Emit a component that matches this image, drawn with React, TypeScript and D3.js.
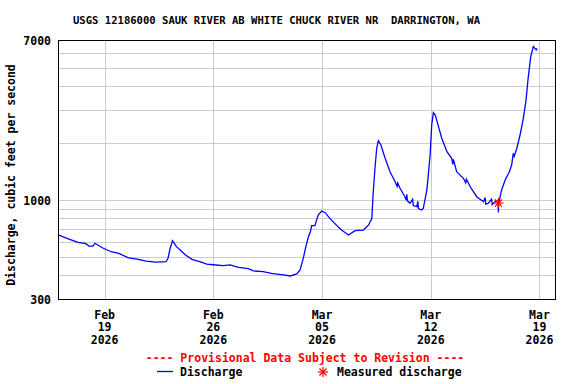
import React from 'react';
import * as d3 from 'd3';

const title = 'USGS 12186000 SAUK RIVER AB WHITE CHUCK RIVER NR  DARRINGTON, WA';
const yLabel = 'Discharge, cubic feet per second';

// discharge readings
const times = [
    '2026-02-16 01:00', '2026-02-16 17:00', '2026-02-17 07:00', '2026-02-17 19:00', '2026-02-18 00:00',
    '2026-02-18 06:00', '2026-02-18 09:00', '2026-02-18 22:00', '2026-02-19 10:00', '2026-02-19 22:00',
    '2026-02-20 12:00', '2026-02-21 04:00', '2026-02-21 16:00', '2026-02-22 07:00', '2026-02-22 23:00',
    '2026-02-23 02:00', '2026-02-23 05:00', '2026-02-23 09:00', '2026-02-23 15:00', '2026-02-23 22:00',
    '2026-02-24 05:00', '2026-02-24 15:00', '2026-02-25 03:00', '2026-02-25 14:00', '2026-02-26 00:00',
    '2026-02-26 15:00', '2026-02-27 02:00', '2026-02-27 15:00', '2026-02-28 06:00', '2026-02-28 14:00',
    '2026-03-01 05:00', '2026-03-01 18:00', '2026-03-02 12:00', '2026-03-02 23:00', '2026-03-03 09:00',
    '2026-03-03 14:00', '2026-03-03 19:00', '2026-03-03 23:00', '2026-03-04 03:00', '2026-03-04 06:00',
    '2026-03-04 08:00', '2026-03-04 13:00', '2026-03-04 18:00', '2026-03-04 23:30', '2026-03-05 05:00',
    '2026-03-05 12:00', '2026-03-05 23:00', '2026-03-06 06:00', '2026-03-06 17:00', '2026-03-07 03:00',
    '2026-03-07 16:00', '2026-03-08 00:00', '2026-03-08 05:00', '2026-03-08 07:00', '2026-03-08 10:00',
    '2026-03-08 12:30', '2026-03-08 15:00', '2026-03-08 19:00', '2026-03-09 01:30', '2026-03-09 09:00',
    '2026-03-09 17:00', '2026-03-09 20:00', '2026-03-09 21:00', '2026-03-10 00:30', '2026-03-10 08:00',
    '2026-03-10 10:00', '2026-03-10 11:00', '2026-03-10 12:00', '2026-03-10 16:00', '2026-03-10 20:00',
    '2026-03-10 21:00', '2026-03-11 02:30', '2026-03-11 04:00', '2026-03-11 05:00', '2026-03-11 10:00',
    '2026-03-11 12:30', '2026-03-11 18:00', '2026-03-11 20:00', '2026-03-11 23:00', '2026-03-12 01:30',
    '2026-03-12 04:00', '2026-03-12 07:00', '2026-03-12 12:00', '2026-03-12 17:00', '2026-03-13 01:00',
    '2026-03-13 08:30', '2026-03-13 10:00', '2026-03-13 11:00', '2026-03-13 16:00', '2026-03-14 02:30',
    '2026-03-14 06:00', '2026-03-14 07:00', '2026-03-14 13:00', '2026-03-14 23:00', '2026-03-15 09:30',
    '2026-03-15 12:00', '2026-03-15 13:00', '2026-03-15 17:00', '2026-03-15 22:00', '2026-03-15 23:00',
    '2026-03-16 03:30', '2026-03-16 08:00', '2026-03-16 08:30', '2026-03-16 09:00', '2026-03-16 13:30',
    '2026-03-16 19:00', '2026-03-17 01:30', '2026-03-17 05:00', '2026-03-17 07:30', '2026-03-17 09:00',
    '2026-03-17 13:00', '2026-03-17 18:00', '2026-03-17 23:00', '2026-03-18 03:00', '2026-03-18 06:30',
    '2026-03-18 10:30', '2026-03-18 14:30', '2026-03-18 19:00', '2026-03-18 20:30',
];
const discharge = [
    653, 622, 598, 588, 571,
    571, 591, 556, 533, 523,
    496, 486, 476, 470, 472,
    492, 551, 610, 567, 540,
    512, 486, 472, 459, 455,
    450, 454, 441, 434, 422,
    418, 410, 402, 397, 407,
    427, 492, 567, 640, 680,
    732, 732, 833, 875, 857,
    800, 732, 694, 653, 689,
    694, 738, 800, 1085, 1499,
    1876, 2057, 1952, 1661, 1411,
    1250, 1180, 1230, 1153, 1041,
    1000, 1070, 990, 961, 1010,
    935, 922, 985, 900, 885,
    904, 1130, 1328, 1729, 2490,
    2892, 2811, 2439, 2118, 1800,
    1661, 1540, 1640, 1411, 1302,
    1230, 1290, 1175, 1041, 980,
    1030, 950, 961, 1010, 945,
    980, 990, 858, 961, 1130,
    1276, 1411, 1531, 1765, 1700,
    1876, 2204, 2702, 3306, 4393,
    5715, 6454, 6199, 6327,
];

const measuredTimes = ['2026-03-16 08:30'];
const measuredValues = [964];

const xTickDates = ['2026-02-19', '2026-02-26', '2026-03-05', '2026-03-12', '2026-03-19'];
const yTickLabels = [300, 1000, 7000];
const yGridValues = [400, 500, 600, 700, 800, 900, 1000, 2000, 3000, 4000, 5000, 6000];

const parseTime = d3.timeParse('%Y-%m-%d %H:%M');
const parseDay = d3.timeParse('%Y-%m-%d');

const W = 576, H = 384;
const margin = { top: 40, right: 21, bottom: 85, left: 58 };
const font = '"DejaVu Sans Mono", monospace';

const App = () => {
    const x = d3.scaleTime()
        .domain([parseDay('2026-02-16')!, parseDay('2026-03-20')!])
        .range([margin.left, W - margin.right]);
    const y = d3.scaleLog()
        .domain([300, 7000])
        .range([H - margin.bottom, margin.top]);

    const pts = times.map((t, i) => [parseTime(t)!, discharge[i]] as [Date, number]);
    const line = d3.line<[Date, number]>()
        .x(d => x(d[0]))
        .y(d => y(d[1]));

    const star = (cx: number, cy: number, r: number, key: string) => (
        <g key={key} stroke="#ff0000" strokeWidth={1.2}>
            {[0, 45, 90, 135].map(a => {
                const rad = (a * Math.PI) / 180;
                const dx = Math.cos(rad) * r, dy = Math.sin(rad) * r;
                return <line key={a} x1={cx - dx} y1={cy - dy} x2={cx + dx} y2={cy + dy} />;
            })}
        </g>
    );

    const x0 = margin.left, x1 = W - margin.right;
    const y0 = margin.top, y1 = H - margin.bottom;

    return (
        <svg width={W} height={H} style={{ position: 'absolute', left: 0, top: 0, background: '#fff' }}
            fontFamily={font} fontWeight="bold">
            <rect x={0} y={0} width={W} height={H} fill="#fff" />
            <text x={73} y={24} fontSize={10.5} textLength={407} lengthAdjust="spacingAndGlyphs"
                style={{ whiteSpace: 'pre' }}>{title}</text>

            {/* grid */}
            {yGridValues.map(v => (
                <line key={'gy' + v} x1={x0} x2={x1} y1={Math.round(y(v)) + 0.5} y2={Math.round(y(v)) + 0.5}
                    stroke="#cccccc" />
            ))}
            {xTickDates.map(d => {
                const px = Math.round(x(parseDay(d)!)) + 0.5;
                return <line key={'gx' + d} x1={px} x2={px} y1={y0} y2={y1} stroke="#cccccc" />;
            })}

            <path d={line(pts) || ''} fill="none" stroke="#0000ff" strokeWidth={1.3} />

            {measuredTimes.map((t, i) => star(x(parseTime(t)!), y(measuredValues[i]), 5, 'm' + i))}

            <rect x={x0 + 0.5} y={y0 + 0.5} width={x1 - x0} height={y1 - y0} fill="none" stroke="#000" />

            {/* y tick labels */}
            {yTickLabels.map(v => (
                <text key={'yl' + v} x={51} y={y(v) + 5} fontSize={11.5} textAnchor="end">{v}</text>
            ))}
            <text transform={`translate(15,175) rotate(-90)`} fontSize={11.5} textAnchor="middle">{yLabel}</text>

            {/* x tick labels */}
            {xTickDates.map(d => {
                const dt = parseDay(d)!;
                const px = x(dt);
                const rows = [d3.timeFormat('%b')(dt), d3.timeFormat('%d')(dt), d3.timeFormat('%Y')(dt)];
                return rows.map((s, k) => (
                    <text key={d + k} x={px} y={318.5 + k * 12.8} fontSize={11.5} textAnchor="middle">{s}</text>
                ));
            })}

            {/* legend */}
            <text x={305} y={362} fontSize={11.5} textAnchor="middle" fill="#ff0000"
                style={{ whiteSpace: 'pre' }}>---- Provisional Data Subject to Revision ----</text>
            <line x1={157} x2={173} y1={371.5} y2={371.5} stroke="#0000ff" strokeWidth={1.3} />
            <text x={180} y={376} fontSize={11.5}>Discharge</text>
            {star(323, 372, 5, 'legend')}
            <text x={337} y={376} fontSize={11.5}>Measured discharge</text>
        </svg>
    );
};

export default App;
